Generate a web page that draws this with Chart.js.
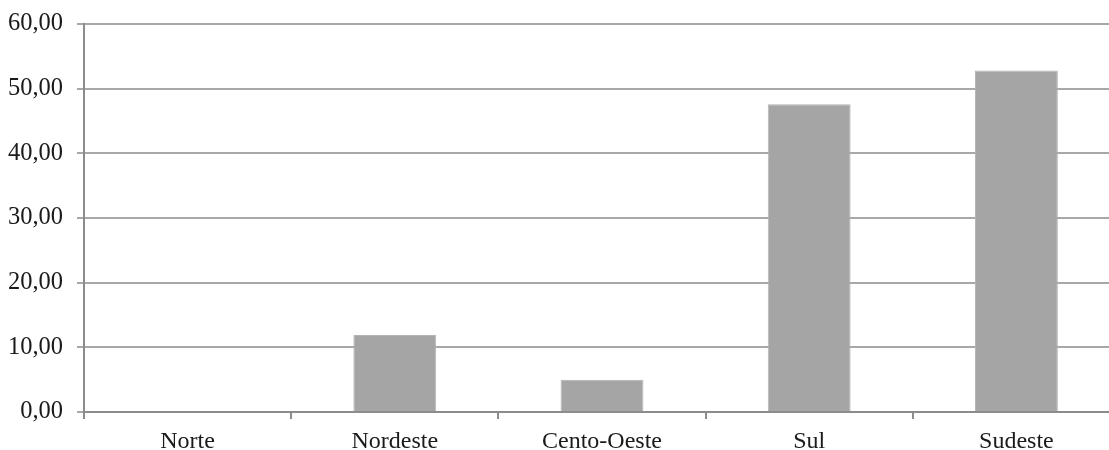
<!DOCTYPE html>
<html>
<head>
<meta charset="utf-8">
<script src="https://cdn.jsdelivr.net/npm/chart.js@4/dist/chart.umd.min.js"></script>
<style>
    html, body { margin: 0; padding: 0; background: #fff; overflow: hidden; }
    #wrap { width: 1130px; height: 450px; position: relative; }
</style>
</head>
<body>
<div id="wrap"><canvas id="regionChart"></canvas></div>
<script>
// values
const regions = ['Norte', 'Nordeste', 'Cento-Oeste', 'Sul', 'Sudeste'];
const values = [0, 11.9, 5.0, 47.6, 52.8];
const yTicks = [0, 10, 20, 30, 40, 50, 60];

const gridColor = '#a8a8a8';
const axisColor = '#8c8c8c';
const textColor = '#1a1a1a';
const serif = '"Liberation Serif", "DejaVu Serif", serif';

document.addEventListener('DOMContentLoaded', () => {
    createRegionChart();
});

function createRegionChart() {
    const ctx = document.getElementById('regionChart').getContext('2d');
    new Chart(ctx, {
        type: 'bar',
        data: {
            labels: regions,
            datasets: [{
                data: values,
                backgroundColor: '#a5a5a5',
                borderColor: '#b4b4b4',
                borderWidth: 1,
                barPercentage: 1.0,
                categoryPercentage: 0.4
            }]
        },
        options: {
            responsive: true,
            maintainAspectRatio: false,
            animation: false,
            layout: {
                padding: { top: 0, right: 10, bottom: 0, left: 0 }
            },
            plugins: {
                legend: { display: false },
                tooltip: { enabled: false }
            },
            scales: {
                x: {
                    afterFit: scale => {
                        scale.height = 38;
                    },
                    grid: {
                        display: true,
                        drawOnChartArea: false,
                        drawTicks: true,
                        tickLength: 7,
                        color: axisColor,
                        lineWidth: 2
                    },
                    border: { display: true, color: axisColor, width: 2 },
                    ticks: {
                        color: textColor,
                        padding: 8,
                        font: { family: serif, size: 24 }
                    }
                },
                y: {
                    min: 0,
                    max: 60,
                    afterBuildTicks: scale => {
                        scale.ticks = yTicks.map(v => ({ value: v }));
                    },
                    afterFit: scale => {
                        scale.width = 84;
                        scale.paddingTop = 24;
                    },
                    grid: {
                        color: gridColor,
                        lineWidth: 2,
                        drawTicks: true,
                        tickLength: 7
                    },
                    border: { display: true, color: axisColor, width: 2 },
                    ticks: {
                        color: textColor,
                        padding: 14,
                        font: { family: serif, size: 24.5 },
                        callback: v => v.toFixed(2).replace('.', ',')
                    }
                }
            }
        }
    });
}
</script>
</body>
</html>
